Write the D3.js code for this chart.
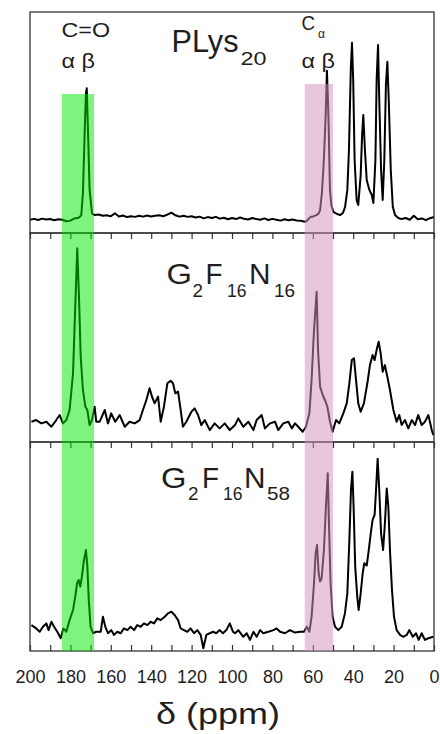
<!DOCTYPE html>
<html><head><meta charset="utf-8">
<script src="https://cdn.jsdelivr.net/npm/d3@7"></script>
<style>
html,body{margin:0;padding:0;background:#fff;}
svg{display:block;}
text{font-family:"Liberation Sans",Arial,Helvetica,sans-serif;fill:#1e1e1e;}
</style></head>
<body>
<svg id="chart" width="440" height="734"></svg>
<script>
// ---------- data (ppm, intensity %) ----------
const sampleNames = ["PLys20", "G2F16N16", "G2F16N58"];

const plys20 = [[200,6.0],[198,6.4],[196,5.9],[194,6.5],[192,6.1],[190,6.3],[188,5.8],[186,6.2],[184,6.0],[182,5.3],[180,5.6],[178,6.6],[176,6.9],[175.5,7.2],[174.6,8.1],[173.8,18],[172.9,46.6],[172.3,63.2],[171.9,65.5],[171.3,46.6],[170.5,19.5],[169.3,8.9],[168,8.1],[166,8.4],[164,7.8],[162,8.0],[160,7.6],[158,8.9],[156,7.5],[154,7.9],[152,7.2],[150,7.6],[148,7.3],[146,7.8],[144,7.4],[142,7.9],[140,7.5],[138,7.8],[136,8.0],[134,7.6],[132,8.3],[130,9.2],[128,8.0],[126,7.4],[124,7.8],[122,7.3],[120,7.6],[118,7.0],[116,7.4],[114,6.6],[112,7.2],[110,6.8],[108,7.3],[106,6.5],[104,6.9],[102,6.2],[100,6.8],[98,6.3],[96,7.0],[94,6.4],[92,6.1],[90,6.8],[88,6.3],[86,6.0],[84,6.6],[82,5.9],[80,6.4],[78,6.0],[76,5.6],[74,6.2],[72,5.8],[70,6.1],[68,5.7],[66,5.5],[64,5.1],[63,5.4],[62,6.5],[61,7.3],[60,7.4],[58,8.2],[57,9.0],[56.4,10.4],[55.5,18],[54.8,28.5],[54.2,40],[53.6,54.3],[53,73.4],[52.5,60],[52.1,46.6],[51.8,32],[51.5,19.5],[50.8,12.5],[49.8,9.6],[48,8.6],[46.5,8.1],[45,9.2],[44,11.9],[42.9,19.5],[42.1,37.6],[41.2,73.8],[40.6,86.1],[40,69.2],[39.3,33],[38.3,14.9],[37.5,12.7],[36.3,26.2],[35.6,44.3],[35,53.4],[34.2,37.6],[33.3,24],[32,19.5],[30.8,17.2],[30,13.6],[29,33],[28.4,69.2],[27.7,85.1],[27.1,60.2],[26.2,28.5],[25.4,14.9],[24.6,33],[23.8,67],[23.1,77.5],[22.4,60.2],[21.4,28.5],[20.4,11.9],[19.3,8.1],[17.7,6.8],[16,6.3],[14,6.8],[12,6.0],[10,7.8],[8,6.2],[6,6.6],[4,5.8],[2,6.7],[0,7.2]];

const g2f16n16 = [[199.3,9.7],[196.9,10.5],[194.4,8.9],[191.9,9.7],[189.4,7.3],[187,10.5],[185.3,12.9],[183.7,8.9],[182,10.5],[180.4,15.3],[178.7,32.9],[177.6,64.7],[176.6,92.7],[175.7,67.9],[174.9,40.8],[173.8,24.9],[172.6,16.9],[171.6,15.3],[170.5,8.1],[169.3,10.5],[168,16.9],[167.2,9.7],[165.5,9.7],[163,15.3],[161.4,8.9],[159.8,13.7],[157.8,9.7],[155.6,12.9],[153.1,7.3],[150.7,9.7],[148.2,8.9],[145.7,10.5],[144.1,15.3],[142.4,20.1],[140.8,25.7],[139.6,21.7],[138.3,18.5],[136.6,21.7],[135.3,9.7],[133.7,16.9],[132,28.1],[130.4,29.3],[129.2,28.1],[128.1,23.3],[126.7,24.1],[125.4,15.3],[124.3,7.3],[122.6,9.7],[120.1,14.5],[118.5,16.1],[116.8,12.9],[115.2,8.1],[113.5,10.5],[111,5.7],[108.6,8.9],[106.1,6.5],[103.6,8.9],[101.1,5.7],[98.5,8.1],[96.9,11.3],[94.4,7.3],[91.9,9.7],[89.4,5.7],[87.8,10.5],[85.3,12.9],[83.7,6.5],[81.2,8.9],[78.7,9.7],[77.1,5.7],[74.6,8.9],[72.1,9.7],[70.4,6.5],[68.8,8.9],[67.2,7.3],[65,4.9],[63.4,7.3],[61.7,13.7],[60.6,29.7],[59.4,53.6],[58.1,71.9],[57.4,44],[56.4,26.5],[55.1,22.5],[54,20.1],[52.8,16.9],[51.5,9.7],[50.2,4.9],[48.5,10.5],[46.9,8.9],[44.9,13.7],[43.2,18.5],[41.9,28.1],[40.7,39.2],[39.6,40],[38.6,29.7],[37.5,18.5],[36.3,14.5],[34.7,18.5],[33,28.1],[31.7,36.8],[30.4,41.6],[29.4,39.2],[28.4,44],[27.4,48],[26.4,42.4],[25.4,33.6],[24.3,36.8],[23.1,31.2],[21.8,24.9],[20.1,15.3],[18.5,9.7],[17.2,12.9],[16,8.1],[14.4,10.5],[12.7,6.5],[11,10.5],[9.4,8.1],[7.8,12.9],[6.1,8.1],[4.5,9.7],[2.8,12.9],[1.1,5.7],[0.3,3.3]];

const g2f16n58 = [[199.3,12.4],[196.9,10.8],[195.2,9.2],[193.6,11.6],[191.9,13.2],[190.8,10],[189.4,14.0],[188.1,11.6],[186.5,9.2],[184.8,6.1],[183.5,10.8],[182,9.2],[180.4,14.8],[178.7,19.6],[177.6,26],[176.7,32.4],[175.9,34],[175.1,30.8],[174.3,35.6],[173.3,43.5],[172.3,48.3],[171.6,40.3],[170.9,24.4],[170,11.6],[168.8,8.5],[167.2,9.2],[165,9.2],[163.9,16.4],[162.7,11.6],[161.4,8.5],[159.8,10],[158.4,7.7],[156.8,9.2],[155.1,8.5],[153.5,10.8],[151.8,10],[150.2,11.6],[148.5,10],[146.9,12.4],[145.2,11.6],[143.6,13.2],[141.9,12.4],[140.3,14.0],[138.6,13.2],[137,15.6],[135.3,14.8],[133.3,16.4],[131.7,18],[130,18.8],[128.4,17.2],[126.7,14.8],[125.4,10.8],[123.8,10],[122.1,9.2],[120.5,10.8],[118.8,8.5],[117.2,10],[115.5,7.7],[114.2,1.3],[112.7,7.7],[111,8.5],[109.4,9.2],[107.8,8.5],[106.1,10],[104.5,8.5],[102.8,10],[101.1,13.2],[99.5,9.2],[98.5,8.5],[96.9,10],[94.4,6.8],[92.7,8.5],[91.1,5.3],[89.4,9.2],[87.8,6.8],[86.1,10],[84.5,8.5],[82,9.2],[79.5,10],[77.9,10.8],[76.2,9.2],[73.8,8.5],[71.3,10],[68.8,8.8],[66.3,9.2],[64.4,9.2],[63,11.6],[61.7,9.2],[60.6,16.4],[59.4,32.4],[58.6,46.7],[57.9,50.7],[57.1,37.2],[56.4,33.2],[55.6,34.8],[54.5,48.3],[53.5,69],[52.6,85],[52,61.1],[51.2,32.4],[50.2,16.4],[49,11.6],[47.4,10],[45.7,11.6],[44.1,18],[42.9,27.6],[41.9,53.1],[41.1,77],[40.4,85.8],[39.8,69],[39,40.3],[38,26],[37.3,19.6],[36.3,27.6],[35.3,37.2],[34.5,42],[33.3,40.9],[32.3,48.3],[31.3,56.3],[30.4,62.7],[29.4,65.1],[28.7,77],[27.9,92],[27.1,77],[26.2,56.3],[25.2,48.3],[24.3,61.1],[23.4,77.8],[22.6,69],[21.8,48.3],[20.8,29.2],[19.8,16.4],[18.5,10],[16.8,7.7],[15.2,6.8],[13.5,7.7],[12.2,10],[10.5,6.8],[8.9,8.5],[7.6,5.3],[6.1,8.5],[4.5,5.3],[2.8,6.1],[0.3,6.8]];

const spectra = [plys20, g2f16n16, g2f16n58];

// highlighted regions: ppm range, top (intensity in first panel)
const bandRanges = [[184.2, 168.3], [64, 50]];
const bandTops = [62.9, 67.4];
const bandColors = ["rgba(0,232,0,0.5)", "rgba(210,146,186,0.52)"];

const majorTicks = [200, 180, 160, 140, 120, 100, 80, 60, 40, 20, 0];
const tickLabels = ["200", "180", "160", "140", "120", "100", "80", "60", "40", "20", "0"];
const minorTicks = [190, 170, 150, 130, 110, 90, 70, 50, 30, 10];
const xTitle = "δ (ppm)";

// ---------- layout ----------
const svg = d3.select("#chart");
const left = 30, right = 434;
const panels = [{top: 12, bottom: 233}, {top: 233, bottom: 442}, {top: 442, bottom: 651}];
const x = d3.scaleLinear().domain([200, 0]).range([left, right]);
const yScales = panels.map(p => d3.scaleLinear().domain([0, 100]).range([p.bottom, p.top]));

// spectra
spectra.forEach((s, i) => {
  const y = yScales[i];
  const line = d3.line().x(d => x(d[0])).y(d => y(d[1]));
  svg.append("path").datum(s).attr("d", line)
    .attr("fill", "none").attr("stroke", "#000").attr("stroke-width", 2)
    .attr("stroke-linejoin", "round");
});

// frames
panels.forEach(p => {
  svg.append("rect").attr("x", left).attr("y", p.top)
    .attr("width", right - left).attr("height", p.bottom - p.top)
    .attr("fill", "none").attr("stroke", "#333").attr("stroke-width", 1.3);
});

// ticks on tops of lower panels (inward)
[1, 2].forEach(i => {
  const g = svg.append("g").attr("transform", `translate(0,${panels[i].top})`);
  g.call(d3.axisTop(x).tickValues(majorTicks.concat(minorTicks)).tickSizeInner(-6).tickSizeOuter(0).tickFormat(""));
  g.select(".domain").remove();
  g.selectAll("line").attr("stroke", "#333").attr("stroke-width", 1.2);
});

// bottom axis
const gx = svg.append("g").attr("transform", `translate(0,${panels[2].bottom})`);
gx.call(d3.axisBottom(x).tickValues(majorTicks).tickSizeInner(-6).tickSizeOuter(0).tickPadding(19)
  .tickFormat((d, i) => tickLabels[i]));
gx.select(".domain").remove();
gx.selectAll("line").attr("stroke", "#333").attr("stroke-width", 1.2);
gx.selectAll("text").attr("font-size", 18).attr("fill", "#1e1e1e")
  .attr("font-family", '"Liberation Sans", Arial, sans-serif');
const gm = svg.append("g").attr("transform", `translate(0,${panels[2].bottom})`);
gm.call(d3.axisBottom(x).tickValues(minorTicks).tickSizeInner(-6).tickSizeOuter(0).tickFormat(""));
gm.select(".domain").remove();
gm.selectAll("line").attr("stroke", "#333").attr("stroke-width", 1.2);

svg.append("text").attr("x", 156).attr("y", 723.5).attr("font-size", 30)
  .attr("textLength", 124).attr("lengthAdjust", "spacingAndGlyphs").text(xTitle);

// bands (translucent, drawn over the traces)
bandRanges.forEach((r, i) => {
  svg.append("rect")
    .attr("x", x(r[0])).attr("width", x(r[1]) - x(r[0]))
    .attr("y", yScales[0](bandTops[i])).attr("height", panels[2].bottom - yScales[0](bandTops[i]))
    .attr("fill", bandColors[i]);
});

// ---------- labels ----------
function label(t, xx, yy, size, len) {
  svg.append("text").attr("x", xx).attr("y", yy).attr("font-size", size)
    .attr("textLength", len).attr("lengthAdjust", "spacingAndGlyphs").text(t);
}
// panel 1
label("C=O", 61.5, 37, 20, 48.5);
label("α β", 61.5, 68, 20, 33.5);
label("C", 301.5, 29.5, 20, 13.5);
label("α", 318, 38, 12, 7);
label("α β", 301.5, 67.5, 20, 33.5);
label("PLys", 171.5, 51.5, 32, 67);
label("20", 240.5, 65, 19, 26);
// panel 2
label("G", 166.5, 283.5, 30, 25.5);
label("2", 192.5, 297, 19, 10.5);
label("F", 205.5, 283.5, 30, 17);
label("16", 227, 297, 19, 19.5);
label("N", 249, 283.5, 30, 21.5);
label("16", 274, 297, 19, 21);
// panel 3
label("G", 161, 487.5, 30, 25.5);
label("2", 188, 499.5, 19, 10.5);
label("F", 202, 487.5, 30, 17);
label("16", 223, 499.5, 19, 19.5);
label("N", 244, 487.5, 30, 21.5);
label("58", 267, 499.5, 19, 23);
</script>
</body></html>
